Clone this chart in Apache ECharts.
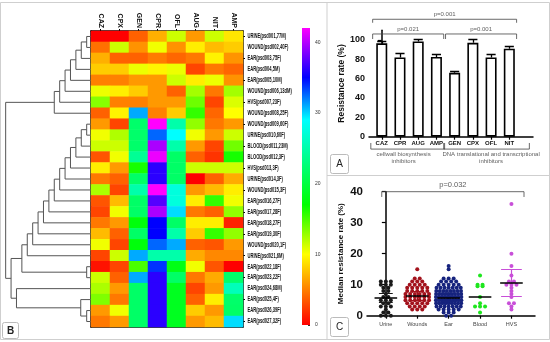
<!DOCTYPE html>
<html><head><meta charset="utf-8">
<script src="https://cdn.jsdelivr.net/npm/echarts@6/dist/echarts.min.js"></script>
<style>html,body{margin:0;padding:0;background:#fff}#c{width:550px;height:342px}</style>
</head><body><div id="c"></div>
<script>
// ---------- Panel B: heatmap ----------
const heatCols = ['CAZ','CPX','GEN','CPR','OFL','AUG','NIT','AMP'];
const heatRows = ['URINE(psd001,77M)','WOUND(psd002,40F)','EAR(psd003,75F)','EAR(psd004,5M)','EAR(psd005,10M)',
 'WOUND(psd006,13dM)','HVS(psd007,23F)','WOUND(psd008,25F)','WOUND(psd009,60F)','URINE(psd010,60F)',
 'BLOOD(psd011,23M)','BLOOD(psd012,3F)','HVS(psd013,3F)','URINE(psd014,3F)','WOUND(psd015,3F)',
 'EAR(psd016,27F)','EAR(psd017,28F)','EAR(psd018,27F)','EAR(psd019,30F)','WOUND(psd020,1F)',
 'URINE(psd021,6M)','EAR(psd022,18F)','EAR(psd023,22F)','EAR(psd024,68M)','EAR(psd025,4F)',
 'EAR(psd026,39F)','EAR(psd027,32F)'];
const heatValues = [
 [0,0,3.8,6.9,11.4,6,11.4,9],
 [4.4,11.4,5.7,10.4,5.7,9.3,7.3,8],
 [6.9,3.8,3.8,4.8,4,4.7,9.5,5.8],
 [8,8,10.5,9.6,10.5,2.7,4.7,4],
 [5,5,6,6,11.4,9.3,10.5,5.7],
 [10.5,9.3,8,6,3.8,12.5,4.7,12.5],
 [13.3,5,5,6,6,14,2.7,11],
 [3.8,9.5,31,5,8,15.6,4,10],
 [6,2.7,22,42,25,13,4.7,6],
 [10.4,12.2,22,32.6,29,10.4,6,11.4],
 [11.4,11.4,22,39.7,25,6,2.7,13.9],
 [3.3,10.4,24,41.5,21.8,3.8,2,16.4],
 [9.3,6,16.4,36.2,21.8,11.4,11.4,11.4],
 [4.7,3.8,21.8,36.2,21.8,0,3.8,6.7],
 [12.3,2.7,25,42,27.4,6,7.3,9.3],
 [3.3,7.3,21.8,37.3,27.4,9.3,15.6,10.4],
 [2.7,10.4,21.8,39.7,29.8,4.7,3.8,13],
 [4.7,6,17.5,35,21.8,9.3,9.3,1.3],
 [7.3,3.8,21.8,35,25,8,15.6,13],
 [10.4,2.7,17.5,32.6,31,3.8,3.3,6],
 [2.7,11.4,31,25,25,6.7,5.3,5.3],
 [0.7,2.7,15,33.8,18,10.4,3.3,0],
 [11.4,3.8,31,36.2,21.8,4.7,6.7,22],
 [12.3,6,21.8,36.2,18.5,2.7,6,25.7],
 [13.5,4.7,21.8,36.2,18.5,3.8,9.3,22],
 [6,10.4,21.8,36.2,18.5,8,6,21.8],
 [4.7,6,21.8,36.2,18.5,6,7.3,29.8]
];
// dendrogram linkage: [childA, childB, height]; ids >= 27 refer to earlier merges
const dendroMerges = [
 [0,1,0.8],[27,2,1.8],[28,3,2.8],[29,4,3.8],[30,5,4.8],[31,6,5.8],[32,7,6.8],
 [8,9,0.8],[34,10,1.8],[35,11,2.8],[36,12,3.8],[37,13,4.8],[38,14,5.8],[39,15,6.8],
 [40,16,7.8],[41,17,8.8],[42,18,9.8],[43,19,10.8],[44,20,11.8],
 [21,22,0.8],[45,46,12.8],[25,26,0.8],[24,48,1.9],[23,49,13.8],[47,50,14.8],[33,51,15.8]
];
const scaleMin = 0, scaleMax = 42;
const scaleTicks = [0,10,20,30,40];

// ---------- Panel A: bars ----------
const barCategories = ['CAZ','CPR','AUG','AMP','GEN','CPX','OFL','NIT'];
const barValues = [96.5, 82, 98.5, 82.5, 66, 97, 82, 91];
const barErrors = [2, 4, 2, 2.5, 2, 3.5, 3, 2];
const barTicks = [0,20,40,60,80,100];
const barGroupNames = ['cellwall biosynthesis\ninhibitors','DNA translational and transcriptional\ninhibitors'];
const barGroupRanges = [['CAZ','AMP'],['GEN','NIT']];
const barSigLabels = ['p=0.001','p=0.021','p=0.001'];
const barSigRanges = [['CAZ','NIT'],['CAZ','AMP'],['GEN','NIT']];

// ---------- Panel C: dot plot ----------
const dotCategories = ['Urine','Wounds','Ear','Blood','HVS'];
const dotUrine = [11,11,11,10,10,10,9,9,8,8,7,6,6,5,5,5,4,4,3,3,3,2,1,1,0,0,0];
const dotWounds = [15,12,12,11,11,11,10,10,10,10,9,9,9,9,9,8,8,8,8,8,7,7,7,7,7,7,6,6,6,6,6,6,5,5,5,5,5,5,4,4,4,4,4,3,3,3,3,2,2,2];
const dotEar = [16,15,12,12,12,11,11,11,11,10,10,10,10,10,9,9,9,9,9,9,9,8,8,8,8,8,8,8,8,7,7,7,7,7,7,7,7,7,
 6,6,6,6,6,6,6,6,6,6,5,5,5,5,5,5,5,5,5,5,4,4,4,4,4,4,4,4,4,3,3,3,3,3,3,3,2,2,2,2,2,1,1,1,0,0];
const dotBlood = [13,10,10,9.5,9.5,6,4,3,3,3,1];
const dotHVS = [36,20,16,13,11,11,10,10,10,9,8,7,6,4,4,3,2];
const dotCenter = [5.8, 6.4, 5.8, 6.1, 10.6];
const dotErrLow = [4.3, 5, 4.6, null, 6.3];
const dotErrHigh = [7.2, 8, 7.2, null, 15];
const dotTicks = [0,10,20,30,40];
const dotSigLabel = 'p=0.032';
const dotSigRange = ['Urine','HVS'];

// ---------- styling ----------
const SANS = "'Liberation Sans',Arial,sans-serif";
const colorAnchors = [[0,'#ff0000'],[10,'#ffff00'],[17,'#00ff00'],[29,'#00ffff'],[35,'#0000ff'],[42,'#ff00ff']];
const dotColors = ['#1a1a1a','#a3121c','#16237e','#1ee61e','#c84fd8'];

function hex2rgb(h){return [1,3,5].map(i=>parseInt(h.substr(i,2),16));}
function colorAt(v){
  for (let k=1;k<colorAnchors.length;k++){
    const [v0,c0]=colorAnchors[k-1],[v1,c1]=colorAnchors[k];
    if (v<=v1){const t=(v-v0)/(v1-v0),a=hex2rgb(c0),b=hex2rgb(c1);
      return 'rgb('+a.map((x,i)=>Math.round(x+(b[i]-x)*t)).join(',')+')';}
  }
  return colorAnchors[colorAnchors.length-1][1];
}
const scaleColors=[]; for(let v=scaleMin;v<=scaleMax;v++) scaleColors.push(colorAt(v));

// heatmap data
const heatData=[]; heatValues.forEach((row,r)=>row.forEach((v,c)=>heatData.push([c,r,v])));
// dendrogram
const nLeaves=heatRows.length, nodeY=[], nodeH=[];
for(let i=0;i<nLeaves;i++){nodeY[i]=i+0.5;nodeH[i]=0;}
const dendroLines = dendroMerges.map(([a,b,h],k)=>{
  const id=nLeaves+k; nodeY[id]=(nodeY[a]+nodeY[b])/2; nodeH[id]=h;
  return {coords:[[nodeH[a],nodeY[a]],[h,nodeY[a]],[h,nodeY[b]],[nodeH[b],nodeY[b]]]};
});

// panel A helpers
const bIdx = n=>barCategories.indexOf(n);
const barErrLines=[];
barValues.forEach((v,i)=>{const t=v+barErrors[i];
  barErrLines.push({coords:[[i,v],[i,t]]});
  barErrLines.push({coords:[[i-0.25,t],[i+0.25,t]]});});
const sigLevels=[121.4,106.2,106.2];
const barSigLines=barSigRanges.map(([a,b],k)=>{const x0=bIdx(a)-0.5,x1=bIdx(b)+0.4,y=sigLevels[k],d=k===0?3.6:5.2;
  return {coords:[[x0,y-d],[x0,y],[x1,y],[x1,y-d]]};});
const barSigText=barSigRanges.map(([a,b],k)=>({name:barSigLabels[k],value:[(bIdx(a)-0.5+bIdx(b)+0.4)/2,sigLevels[k]]}));
const grpLines=barGroupRanges.map(([a,b])=>{const x0=bIdx(a)-0.6,x1=bIdx(b)+(b==='NIT'?1.1:0.45);
  return {coords:[[x0,-6.5],[x0,-12.8],[x1,-12.8],[x1,-6.5]]};});
const grpText=barGroupRanges.map(([a,b],k)=>({name:barGroupNames[k],value:[(bIdx(a)+bIdx(b))/2+(k===1?0.5:-0.3),-14.5]}));

// panel C helpers
function swarm(vals,ci){
  const g={}; vals.forEach(v=>{(g[v]=g[v]||[]).push(v);});
  const out=[]; Object.keys(g).forEach(k=>{const n=g[k].length, step=Math.min(0.16,0.9/n);
    g[k].forEach((v,j)=>out.push([ci+(j-(n-1)/2)*step,v]));});
  return out;
}
const dotSets=[dotUrine,dotWounds,dotEar,dotBlood,dotHVS];
const centerLines=dotCenter.map((c,i)=>({coords:[[i-0.36,c],[i+0.36,c]]}));
const dotErrLines=[];
dotErrLow.forEach((lo,i)=>{ if(lo==null) return; const hi=dotErrHigh[i],w=i===4?0.33:0.22;
  const ls={color:dotColors[i],width:1.2};
  dotErrLines.push({coords:[[i,lo],[i,hi]],lineStyle:ls});
  dotErrLines.push({coords:[[i-w,hi],[i+w,hi]],lineStyle:ls});
  dotErrLines.push({coords:[[i-w,lo],[i+w,lo]],lineStyle:ls});});
const dIdx=n=>dotCategories.indexOf(n);
const dotSigLine=[{coords:[[dIdx(dotSigRange[0])-0.13,38.3],[dIdx(dotSigRange[0])-0.13,40],[dIdx(dotSigRange[1])+0.4,40],[dIdx(dotSigRange[1])+0.4,38.3]]}];
const dotSigText=[{name:dotSigLabel,value:[(dIdx(dotSigRange[0])-0.13+dIdx(dotSigRange[1])+0.4)/2,40]}];

const chart=echarts.init(document.getElementById('c'),null,{renderer:'canvas'});
const noAx={show:false};
const blackLine={show:true,lineStyle:{color:'#000',width:1.5}};

const baseGraphic=[
  {type:'rect',shape:{x:0.5,y:2.5,width:549,height:337},style:{fill:'none',stroke:'#cfcfcf',lineWidth:1},silent:true,z:-1},
  {type:'line',shape:{x1:327,y1:2.5,x2:327,y2:339.5},style:{stroke:'#cfcfcf',lineWidth:1},silent:true},
  {type:'line',shape:{x1:327,y1:175.5,x2:549.5,y2:175.5},style:{stroke:'#cfcfcf',lineWidth:1},silent:true},
  {type:'rect',shape:{x:2.5,y:322.5,width:16,height:16,r:2},style:{fill:'#fff',stroke:'#bbb',lineWidth:1},silent:true},
  {type:'text',x:10.5,y:331,style:{text:'B',font:'bold 10px '+SANS,fill:'#222',textAlign:'center',textVerticalAlign:'middle'},silent:true},
  {type:'rect',shape:{x:330.5,y:154.5,width:18,height:19,r:2},style:{fill:'#fff',stroke:'#bbb',lineWidth:1},silent:true},
  {type:'text',x:339.5,y:164.5,style:{text:'A',font:'10px '+SANS,fill:'#222',textAlign:'center',textVerticalAlign:'middle'},silent:true},
  {type:'rect',shape:{x:330.5,y:317.5,width:18,height:19,r:2},style:{fill:'#fff',stroke:'#bbb',lineWidth:1},silent:true},
  {type:'text',x:339.5,y:327.5,style:{text:'C',font:'10px '+SANS,fill:'#222',textAlign:'center',textVerticalAlign:'middle'},silent:true}
];

const option={
  animation:false,
  backgroundColor:'#fff',
  grid:[
    {left:0,width:91,top:31,height:296},
    {left:91,width:152,top:31,height:296},
    {left:302,width:8,top:28,height:297},
    {left:369,width:164,top:30.3,height:106.4},
    {left:367,width:168,top:191.7,height:124}
  ],
  xAxis:[
    {gridIndex:0,type:'value',min:0,max:16.85,inverse:true,show:false},
    {gridIndex:1,type:'category',data:heatCols,position:'top',
      axisLine:blackLine,axisTick:{show:true,length:2,alignWithLabel:true,lineStyle:{color:'#000'}},
      axisLabel:{rotate:90,fontSize:7,fontWeight:'bold',fontFamily:SANS,color:'#111',margin:3}},
    {gridIndex:1,type:'category',data:heatCols,position:'bottom',axisLine:blackLine,axisTick:noAx,axisLabel:noAx},
    {gridIndex:2,type:'category',data:['s'],show:false},
    {gridIndex:3,type:'value',min:-0.7,max:8.3,splitLine:noAx,axisLine:blackLine,
      axisTick:{show:true,customValues:[0,1,2,3,4,5,6,7],length:3,lineStyle:{color:'#000',width:1.2}},
      axisLabel:{customValues:[0,1,2,3,4,5,6,7],formatter:v=>barCategories[Math.round(v)],fontSize:6,fontWeight:'bold',fontFamily:SANS,color:'#111',margin:4}},
    {gridIndex:4,type:'value',min:-0.6,max:4.75,splitLine:noAx,axisLine:blackLine,
      axisTick:{show:true,customValues:[0,1,2,3,4],length:3,lineStyle:{color:'#000',width:1.2}},
      axisLabel:{customValues:[0,1,2,3,4],formatter:v=>dotCategories[Math.round(v)],fontSize:5.5,fontFamily:SANS,color:'#444',margin:6}}
  ],
  yAxis:[
    {gridIndex:0,type:'value',min:0,max:27,inverse:true,show:false},
    {gridIndex:1,type:'category',data:heatRows,inverse:true,position:'right',
      axisLine:blackLine,axisTick:{show:true,length:2,alignWithLabel:true,lineStyle:{color:'#000'}},
      axisLabel:{show:false}},
    {gridIndex:1,type:'category',data:heatRows,inverse:true,position:'left',axisLine:blackLine,axisTick:noAx,axisLabel:noAx},
    {gridIndex:2,type:'value',min:scaleMin,max:scaleMax,position:'right',splitLine:noAx,axisLine:noAx,
      axisTick:{show:true,inside:true,length:2,customValues:scaleTicks,lineStyle:{color:'#333'}},
      axisLabel:{customValues:scaleTicks,fontSize:5,fontFamily:SANS,color:'#333',margin:5}},
    {gridIndex:3,type:'value',min:0,max:110,splitLine:noAx,axisLine:blackLine,
      axisTick:{show:true,customValues:barTicks,length:4,lineStyle:{color:'#000',width:1.2}},
      axisLabel:{customValues:barTicks,fontSize:9,fontWeight:'bold',fontFamily:SANS,color:'#111',margin:4},
      name:'Resistance rate (%)',nameLocation:'middle',nameGap:20,
      nameTextStyle:{fontSize:8.5,fontWeight:'bold',fontFamily:SANS,color:'#111'}},
    {gridIndex:4,type:'value',min:0,max:40,interval:10,splitLine:noAx,axisLine:blackLine,
      axisTick:{show:true,length:4,lineStyle:{color:'#000',width:1.2}},
      axisLabel:{fontSize:11.5,fontWeight:'bold',fontFamily:SANS,color:'#111',margin:4},
      name:'Median resistance rate (%)',nameLocation:'middle',nameGap:22,
      nameTextStyle:{fontSize:8,fontWeight:'bold',fontFamily:SANS,color:'#111'}}
  ],
  visualMap:{type:'continuous',show:false,min:scaleMin,max:scaleMax,seriesIndex:1,dimension:2,inRange:{color:scaleColors}},
  series:[
    {type:'lines',coordinateSystem:'cartesian2d',xAxisIndex:0,yAxisIndex:0,polyline:true,silent:true,
      lineStyle:{color:'#555',width:1,opacity:1},data:dendroLines},
    {type:'heatmap',xAxisIndex:1,yAxisIndex:1,data:heatData,silent:true,emphasis:{disabled:true}},
    {type:'bar',xAxisIndex:3,yAxisIndex:3,barWidth:'100%',silent:true,
      itemStyle:{color:new echarts.graphic.LinearGradient(0,1,0,0,colorAnchors.map(([v,c])=>({offset:(v-scaleMin)/(scaleMax-scaleMin),color:c})))},
      data:[scaleMax]},
    {type:'bar',xAxisIndex:4,yAxisIndex:4,barWidth:11,silent:true,
      itemStyle:{color:'#fff',borderColor:'#000',borderWidth:1.6},data:barValues.map((v,i)=>[i,v])},
    {type:'lines',coordinateSystem:'cartesian2d',xAxisIndex:4,yAxisIndex:4,silent:true,
      lineStyle:{color:'#000',width:1.3,opacity:1},data:barErrLines},
    {type:'lines',coordinateSystem:'cartesian2d',xAxisIndex:4,yAxisIndex:4,polyline:true,clip:false,silent:true,
      lineStyle:{color:'#444',width:0.8,opacity:1},data:barSigLines},
    {type:'scatter',xAxisIndex:4,yAxisIndex:4,symbolSize:0,clip:false,silent:true,data:barSigText,
      label:{show:true,position:'top',distance:2,formatter:'{b}',fontSize:6,fontFamily:SANS,color:'#333'}},
    {type:'lines',coordinateSystem:'cartesian2d',xAxisIndex:4,yAxisIndex:4,polyline:true,clip:false,silent:true,
      lineStyle:{color:'#444',width:0.8,opacity:1},data:grpLines},
    {type:'scatter',xAxisIndex:4,yAxisIndex:4,symbolSize:0,clip:false,silent:true,data:grpText,
      label:{show:true,position:'bottom',distance:0,formatter:'{b}',fontSize:6,lineHeight:7,fontFamily:SANS,color:'#333',align:'center'}},
    ...dotSets.map((vals,i)=>({type:'scatter',xAxisIndex:5,yAxisIndex:5,symbol:'circle',symbolSize:4,silent:true,clip:false,
      itemStyle:{color:dotColors[i],opacity:1},data:swarm(vals,i)})),
    {type:'lines',coordinateSystem:'cartesian2d',xAxisIndex:5,yAxisIndex:5,silent:true,z:5,
      lineStyle:{color:'#000',width:1.5,opacity:1},data:centerLines},
    {type:'lines',coordinateSystem:'cartesian2d',xAxisIndex:5,yAxisIndex:5,silent:true,z:4,
      lineStyle:{opacity:1},data:dotErrLines},
    {type:'lines',coordinateSystem:'cartesian2d',xAxisIndex:5,yAxisIndex:5,polyline:true,clip:false,silent:true,
      lineStyle:{color:'#444',width:0.8,opacity:1},data:dotSigLine},
    {type:'scatter',xAxisIndex:5,yAxisIndex:5,symbolSize:0,clip:false,silent:true,data:dotSigText,
      label:{show:true,position:'top',distance:3,formatter:'{b}',fontSize:7.5,fontFamily:SANS,color:'#333'}}
  ],
  graphic:baseGraphic
};
chart.setOption(option);

// row labels: real text, placed via the category axis scale, horizontally condensed like the original
const lastCol=heatCols[heatCols.length-1];
const xLast=chart.convertToPixel({xAxisIndex:1},lastCol), xPrev=chart.convertToPixel({xAxisIndex:1},heatCols[heatCols.length-2]);
const xRight=xLast+(xLast-xPrev)/2;
const rowLabelGraphics=heatRows.map(r=>({type:'text',x:xRight+4.5,y:chart.convertToPixel({yAxisIndex:1},r),scaleX:0.62,silent:true,
  style:{text:r,font:'bold 6.6px '+SANS,fill:'#111',textAlign:'left',textVerticalAlign:'middle'}}));
chart.setOption({graphic:baseGraphic.concat(rowLabelGraphics)});
</script></body></html>
